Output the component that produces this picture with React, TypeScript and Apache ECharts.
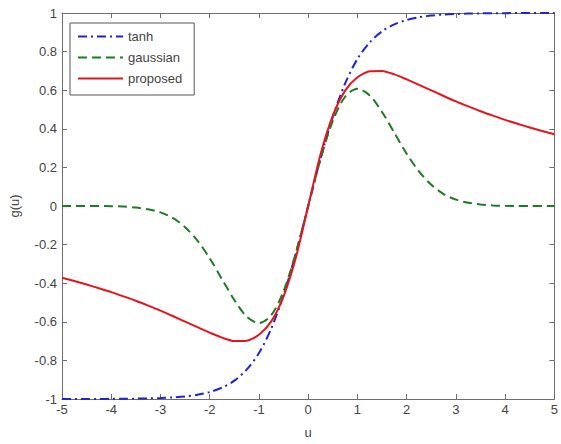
import React, { useEffect, useRef } from "react";
import * as echarts from "echarts";

const uValues = [
  -5, -4.75, -4.5, -4.25, -4, -3.75, -3.5, -3.25, -3, -2.75, -2.5, -2.25, -2, -1.75, -1.5, -1.25, -1, -0.75, -0.5, -0.25,
  0, 0.25, 0.5, 0.75, 1, 1.25, 1.5, 1.75, 2, 2.25, 2.5, 2.75, 3, 3.25, 3.5, 3.75, 4, 4.25, 4.5, 4.75, 5,
];

const tanhValues = [
  -1, -1, -1, -1, -0.999, -0.999, -0.998, -0.997, -0.995, -0.992, -0.987, -0.978, -0.964, -0.941, -0.905, -0.848, -0.762, -0.635, -0.462, -0.245,
  0, 0.245, 0.462, 0.635, 0.762, 0.848, 0.905, 0.941, 0.964, 0.978, 0.987, 0.992, 0.995, 0.997, 0.998, 0.999, 0.999, 1, 1, 1, 1,
];

const gaussianValues = [
  0, 0, 0, 0, -0.001, -0.003, -0.008, -0.017, -0.033, -0.062, -0.11, -0.179, -0.271, -0.379, -0.487, -0.573, -0.607, -0.566, -0.441, -0.242,
  0, 0.242, 0.441, 0.566, 0.607, 0.573, 0.487, 0.379, 0.271, 0.179, 0.11, 0.062, 0.033, 0.017, 0.008, 0.003, 0.001, 0, 0, 0, 0,
];

const proposedValues = [
  -0.372, -0.389, -0.407, -0.426, -0.446, -0.468, -0.491, -0.516, -0.542, -0.57, -0.599, -0.628, -0.656, -0.682, -0.7, -0.698, -0.667, -0.598, -0.468, -0.267,
  0, 0.267, 0.468, 0.598, 0.667, 0.698, 0.7, 0.682, 0.656, 0.628, 0.599, 0.57, 0.542, 0.516, 0.491, 0.468, 0.446, 0.426, 0.407, 0.389, 0.372,
];

const seriesNames = ["tanh", "gaussian", "proposed"];
const xAxisName = "u";
const yAxisName = "g(u)";

const pairs = (ys: number[]) => uValues.map((u, i) => [u, ys[i]]);

export default function App() {
  const ref = useRef<HTMLDivElement>(null);
  useEffect(() => {
    if (!ref.current) return;
    const chart = echarts.init(ref.current, undefined, { renderer: "svg" });
    const font = "Liberation Sans, Arial, sans-serif";
    const axisColor = "#6e6e6e";
    const labelColor = "#444";
    const tick = { show: true, inside: true, length: 5, lineStyle: { color: axisColor } };
    chart.setOption({
      animation: false,
      backgroundColor: "#ffffff",
      textStyle: { fontFamily: font },
      grid: { left: 61, right: 3, top: 13, bottom: 41, containLabel: false },
      legend: {
        data: seriesNames,
        orient: "vertical",
        left: 70,
        top: 23,
        padding: [7, 12, 10, 7],
        itemGap: 8,
        itemWidth: 45,
        itemHeight: 12,
        backgroundColor: "#fff",
        borderColor: "#555",
        borderWidth: 1,
        borderRadius: 0,
        itemStyle: { color: "transparent", borderWidth: 0, opacity: 0 },
        textStyle: { color: labelColor, fontSize: 13, fontFamily: font },
      },
      xAxis: [
        {
          type: "value",
          min: -5,
          max: 5,
          interval: 1,
          name: xAxisName,
          nameLocation: "middle",
          nameGap: 27,
          nameTextStyle: { color: labelColor, fontSize: 13, fontFamily: font },
          axisLine: { show: true, onZero: false, lineStyle: { color: axisColor, width: 1 } },
          axisTick: tick,
          axisLabel: { color: labelColor, fontSize: 13, margin: 4, fontFamily: font },
          splitLine: { show: false },
        },
        {
          type: "value",
          position: "top",
          min: -5,
          max: 5,
          interval: 1,
          axisLine: { show: true, onZero: false, lineStyle: { color: axisColor, width: 1 } },
          axisTick: tick,
          axisLabel: { show: false },
          splitLine: { show: false },
        },
      ],
      yAxis: [
        {
          type: "value",
          min: -1,
          max: 1,
          interval: 0.2,
          name: yAxisName,
          nameLocation: "middle",
          nameGap: 41,
          nameTextStyle: { color: labelColor, fontSize: 13, fontFamily: font },
          axisLine: { show: true, onZero: false, lineStyle: { color: axisColor, width: 1 } },
          axisTick: tick,
          axisLabel: {
            color: labelColor,
            fontSize: 13,
            margin: 5,
            fontFamily: font,
            formatter: (v: number) => String(Math.round(v * 10) / 10),
          },
          splitLine: { show: false },
        },
        {
          type: "value",
          position: "right",
          min: -1,
          max: 1,
          interval: 0.2,
          axisLine: { show: true, onZero: false, lineStyle: { color: axisColor, width: 1 } },
          axisTick: tick,
          axisLabel: { show: false },
          splitLine: { show: false },
        },
      ],
      series: [
        {
          name: seriesNames[0],
          type: "line",
          data: pairs(tanhValues),
          showSymbol: false,
          symbol: "none",
          smooth: 0.3,
          lineStyle: { color: "#2323c8", width: 2, type: [9, 4, 2, 4] },
          itemStyle: { color: "#2323c8" },
        },
        {
          name: seriesNames[1],
          type: "line",
          data: pairs(gaussianValues),
          showSymbol: false,
          symbol: "none",
          smooth: 0.3,
          lineStyle: { color: "#1f7a24", width: 2, type: [9, 5] },
          itemStyle: { color: "#1f7a24" },
        },
        {
          name: seriesNames[2],
          type: "line",
          data: pairs(proposedValues),
          showSymbol: false,
          symbol: "none",
          smooth: 0.25,
          lineStyle: { color: "#e3161e", width: 2, type: "solid", join: "round" },
          itemStyle: { color: "#e3161e" },
        },
      ],
    });
    return () => chart.dispose();
  }, []);
  return (
    <div
      ref={ref}
      style={{ position: "fixed", left: 0, top: 0, width: 561, height: 444, background: "#fff" }}
    />
  );
}
